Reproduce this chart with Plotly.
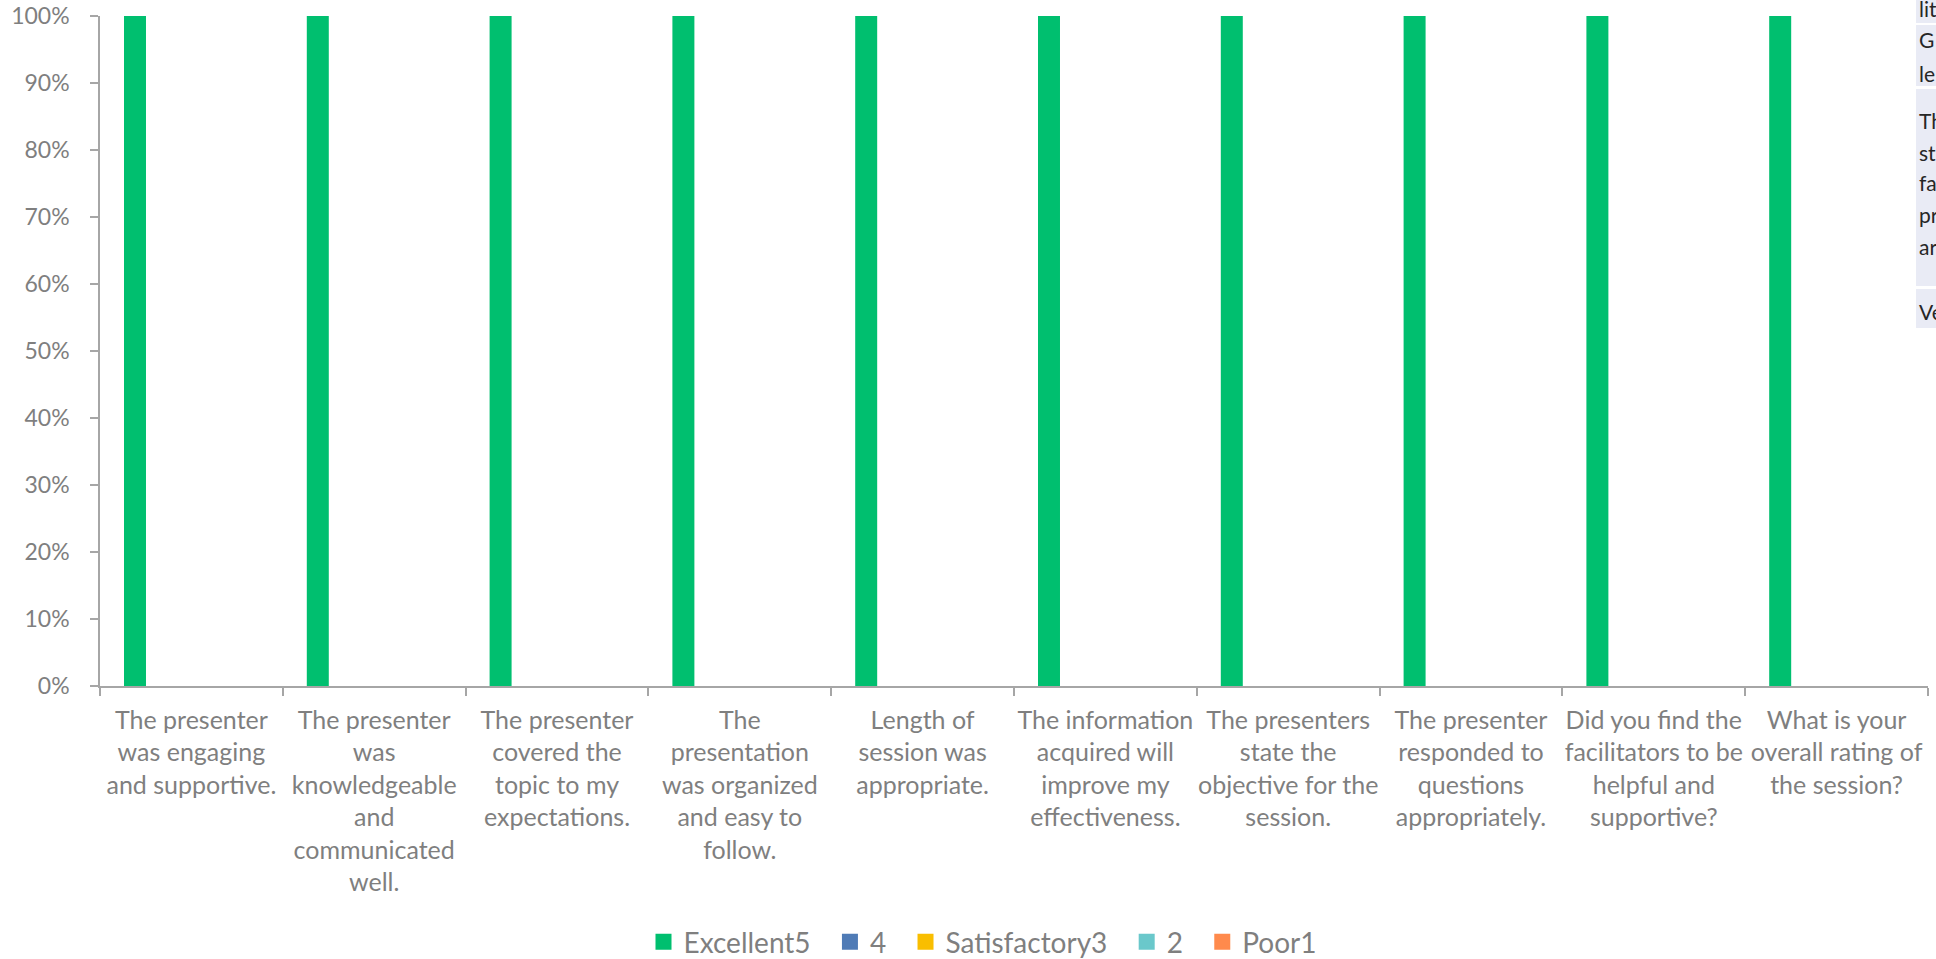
import plotly.graph_objects as go

categories = [
    "The presenter<br>was engaging<br>and supportive.",
    "The presenter<br>was<br>knowledgeable<br>and<br>communicated<br>well.",
    "The presenter<br>covered the<br>topic to my<br>expectations.",
    "The<br>presentation<br>was organized<br>and easy to<br>follow.",
    "Length of<br>session was<br>appropriate.",
    "The information<br>acquired will<br>improve my<br>effectiveness.",
    "The presenters<br>state the<br>objective for the<br>session.",
    "The presenter<br>responded to<br>questions<br>appropriately.",
    "Did you find the<br>facilitators to be<br>helpful and<br>supportive?",
    "What is your<br>overall rating of<br>the session?",
]

series_names = ["Excellent5", "4", "Satisfactory3", "2", "Poor1"]
excellent5 = [1.0, 1.0, 1.0, 1.0, 1.0, 1.0, 1.0, 1.0, 1.0, 1.0]
rating4 = [0, 0, 0, 0, 0, 0, 0, 0, 0, 0]
satisfactory3 = [0, 0, 0, 0, 0, 0, 0, 0, 0, 0]
rating2 = [0, 0, 0, 0, 0, 0, 0, 0, 0, 0]
poor1 = [0, 0, 0, 0, 0, 0, 0, 0, 0, 0]
series_values = [excellent5, rating4, satisfactory3, rating2, poor1]
colors = ["#00BF6F", "#4F7BB6", "#F9BE00", "#6AC8CB", "#FF8A4C"]

y_tickvals = [0, 0.1, 0.2, 0.3, 0.4, 0.5, 0.6, 0.7, 0.8, 0.9, 1.0]

# Fragments of spreadsheet cells visible at the right edge
side_cells = [
    ["lit"],
    ["G", "le"],
    ["Th", "st", "fa", "pr", "ar"],
    ["Ve"],
]

TEXT_GRAY = "#7f7f7f"
AXIS_GRAY = "#a6a6a6"
FONT = "Lato"
PAD = "\u00a0\u00a0"

fig = go.Figure()
for name, vals, col in zip(series_names, series_values, colors):
    fig.add_trace(go.Bar(
        x=categories, y=vals, name=name, legendgroup=name,
        showlegend=False,
        marker=dict(color=col, line=dict(width=0)),
        hoverinfo="skip",
    ))
# legend entries (square keys like the reference)
for i, (name, col) in enumerate(zip(series_names, colors)):
    fig.add_trace(go.Scatter(
        x=[None], y=[None], mode="markers", legendgroup=name,
        name=name + (PAD if i < len(series_names) - 1 else ""),
        marker=dict(symbol="square", size=18, color=col),
        hoverinfo="skip",
    ))

W, H = 1936, 959
ML, MR, MT, MB = 100, 8, 16, 273
plot_w = W - ML - MR
plot_h = H - MT - MB


def px_x(px):
    return (px - ML) / plot_w


def px_y(py):
    return (H - MB - py) / plot_h


fig.update_layout(
    width=W, height=H,
    margin=dict(l=ML, r=MR, t=MT, b=MB, pad=0, autoexpand=False),
    paper_bgcolor="white", plot_bgcolor="white",
    barmode="group", bargap=0.2286, bargroupgap=0.22,
    font=dict(family=FONT, color=TEXT_GRAY, size=25),
    showlegend=True,
    legend=dict(
        orientation="h", x=px_x(983), xanchor="center",
        y=px_y(942), yanchor="middle",
        font=dict(family=FONT, size=28, color=TEXT_GRAY),
        itemclick=False, itemdoubleclick=False,
        itemsizing="trace",
        bgcolor="rgba(0,0,0,0)",
    ),
)

fig.update_xaxes(
    type="category", automargin=False,
    showline=True, linecolor=AXIS_GRAY, linewidth=1.5,
    ticks="outside", ticklen=8, tickcolor=AXIS_GRAY, tickwidth=1.5,
    tickson="boundaries",
    showgrid=False, zeroline=False,
    tickfont=dict(family=FONT, size=25, color=TEXT_GRAY),
    tickangle=0,
    ticklabelstandoff=11,
)
fig.update_yaxes(
    range=[0, 1], automargin=False,
    tickvals=y_tickvals, tickformat=".0%",
    showline=True, linecolor=AXIS_GRAY, linewidth=1.5,
    ticks="outside", ticklen=8, tickcolor=AXIS_GRAY, tickwidth=1.5,
    showgrid=False, zeroline=False,
    tickfont=dict(family=FONT, size=23, color=TEXT_GRAY),
    ticklabelstandoff=16,
)

# Spreadsheet cell fragments on the right edge
cell_boxes = [(0, 23), (25, 86), (89, 286), (289, 328)]
line_centers = [[9], [39.5, 73], [120, 152, 183, 214, 246], [311]]
for (top, bot), lines, centers in zip(cell_boxes, side_cells, line_centers):
    fig.add_shape(
        type="rect", xref="paper", yref="paper",
        x0=px_x(1916), x1=px_x(1945), y0=px_y(bot), y1=px_y(top),
        fillcolor="#E9EBF5", line=dict(width=0), layer="above",
    )
    for txt, cy in zip(lines, centers):
        fig.add_annotation(
            xref="paper", yref="paper", x=px_x(1917), y=px_y(cy),
            xanchor="left", yanchor="middle", text=txt, showarrow=False,
            font=dict(family=FONT, size=21, color="#262626"),
        )

fig.write_html(
    "out.html",
    config={"displayModeBar": False},
    post_script="document.body.style.margin='0';document.body.style.overflow='hidden';",
)
